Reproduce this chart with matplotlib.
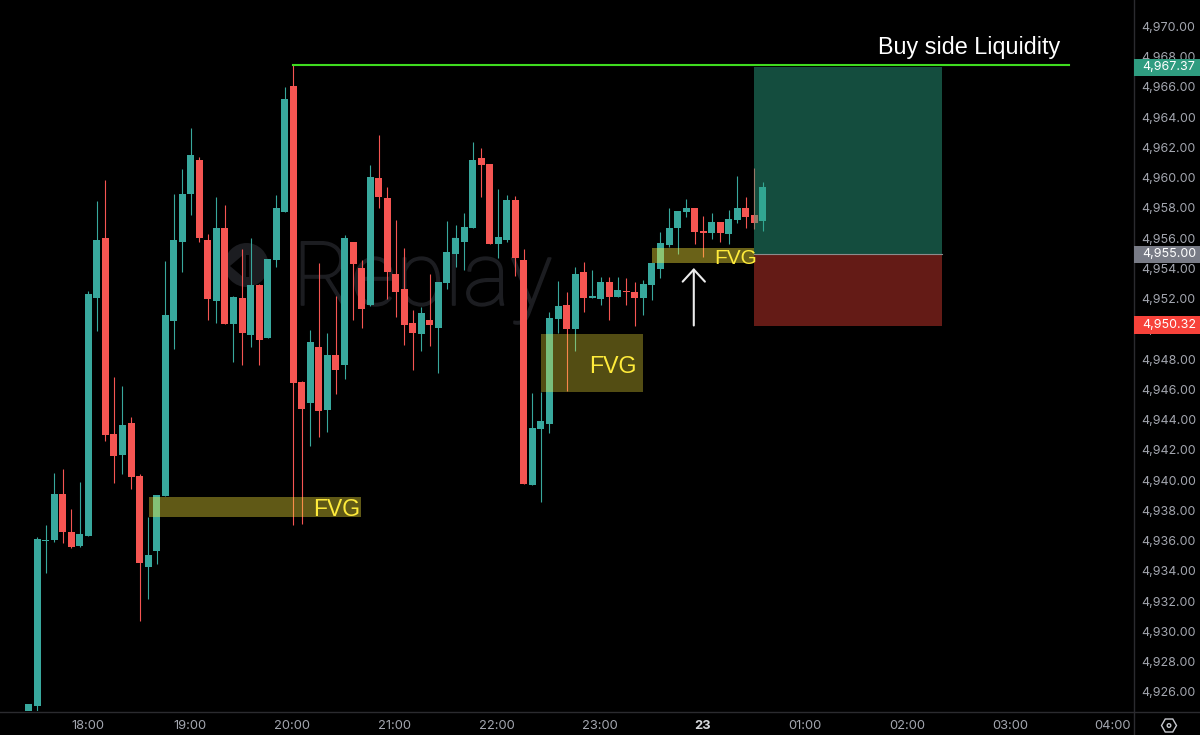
import numpy as np, matplotlib
matplotlib.use("Agg"); import matplotlib.pyplot as plt
import matplotlib.patheffects as pe
from matplotlib.patches import Rectangle, Circle, Polygon, RegularPolygon

# 5 min candles, prices minus 4900, first candle is 35 min before 18:00
opens = [24.74,25.07,35.98,36.05,39.09,36.58,35.65,36.31,52.05,56.02,43.06,41.67,43.79,40.28,34.26,35.32,38.96,50.53,55.75,58.93,
         61.17,55.88,51.85,56.68,50.33,52.05,49.60,52.91,49.40,54.56,57.74,66.07,46.50,45.11,48.81,44.64,48.28,47.62,55.75,54.03,
         51.59,59.98,58.66,53.64,52.64,50.40,49.67,50.60,50.07,53.04,54.96,55.75,56.68,61.31,60.91,55.62,55.88,58.53,54.56,39.69,
         43.39,43.72,50.66,51.59,50.00,53.77,52.05,51.98,53.11,52.12,52.51,52.45,52.05,52.91,53.97,55.55,56.68,57.74,58.00,56.48,
         56.35,57.07,56.28,57.21,58.00,57.54,57.14]
highs = [25.21,36.25,37.04,40.48,40.74,38.10,39.88,52.51,58.46,59.85,46.83,46.23,44.18,40.41,37.57,39.02,54.50,58.93,60.58,63.29,
         61.37,56.28,58.73,58.20,52.18,55.29,56.02,52.98,54.63,58.86,66.00,67.45,46.56,49.93,54.36,49.74,52.18,56.22,55.75,54.56,
         60.84,62.83,59.39,57.21,55.36,51.26,51.45,53.64,53.11,57.14,56.88,57.67,62.36,61.97,60.91,59.26,58.86,58.79,55.29,45.77,
         45.83,51.12,53.17,52.45,54.10,54.43,53.90,53.44,53.44,53.44,53.37,53.11,53.24,54.36,56.41,58.00,57.80,58.59,58.00,57.47,
         57.67,57.07,57.87,60.12,58.73,60.64,59.72]
lows = [24.61,24.74,33.87,35.92,35.85,35.52,35.59,36.31,49.87,42.60,39.82,40.41,39.42,30.69,32.15,34.46,38.96,48.68,53.77,57.54,
        55.75,50.60,50.40,50.33,47.82,47.62,48.81,47.62,49.40,54.10,57.74,37.04,37.11,42.26,42.86,43.19,45.70,46.69,50.60,50.07,
        51.52,58.00,51.98,50.79,48.94,47.29,48.55,48.88,47.09,52.64,54.10,53.90,56.68,58.73,55.62,54.69,55.75,53.50,39.75,39.69,
        38.56,43.12,49.74,45.90,48.55,51.12,52.05,51.59,50.60,52.12,51.59,50.20,50.93,51.92,53.37,55.42,54.96,57.41,55.62,54.76,
        55.95,55.75,55.62,57.01,56.68,56.61,56.48]
closes = [25.21,36.12,36.05,39.09,36.58,35.59,36.45,52.31,55.88,42.99,41.60,43.65,40.21,34.53,35.06,39.02,50.93,55.88,58.93,61.50,
          56.02,51.98,56.68,50.33,52.12,49.74,52.91,49.27,54.63,58.00,65.21,46.43,44.71,49.14,44.58,48.28,47.29,56.02,54.30,51.32,
          60.05,58.73,53.77,52.45,50.26,49.74,51.06,50.26,53.11,55.09,56.02,56.74,61.17,60.84,55.62,56.08,58.53,54.69,39.75,43.45,
          43.92,50.73,51.52,50.00,53.64,52.05,52.18,53.11,52.12,52.58,52.45,52.05,52.98,54.36,55.69,56.68,57.80,58.00,56.41,56.35,
          57.07,56.35,57.27,58.00,57.40,57.01,59.39]
first_bar = -7

base = 4900
price_ticks = list(range(4926, 4972, 2))
time_labels = ["17:00","18:00","19:00","20:00","21:00","22:00","23:00","23","01:00","02:00","03:00","04:00"]
time_bars = [-12,0,12,24,36,48,60,72,84,96,108,120]

# annotations: (bar start, bar end, price low, price high)
fvg_zones = [(7.1,31.9,4937.55,4938.87), (53.0,64.9,4945.83,4949.67), (66.0,78.0,4954.33,4955.33)]
fvg_alpha = [.38,.33,.42]
fvg_text = [(26.35,4938.04,16.5),(58.7,4947.54,16.7),(73.3,4954.65,15)]
liq_price = 4967.45
liq_bars = (24,114.8)
entry,target,stop = 4955.00,4967.37,4950.32
box_edge = -.07   # boxes and tags sit about a pixel under the label centres
pos_bars = (77.95,99.96)
arrow_bar,arrow_lo,arrow_hi = 70.9,4950.23,4954.03

UP,DN = '#38a89d','#f55552'
GREY = '#a3a6af'
FONT = 'Inter'

fig = plt.figure(figsize=(12,7.35),dpi=100,facecolor='black')
# pixel overlay for watermark + settings icon, sits under the chart
bg = fig.add_axes([0,0,1,1],zorder=0); bg.set_xlim(0,1200); bg.set_ylim(735,0); bg.axis('off')
WM = '#1c1d21'
bg.add_patch(Circle((246.5,265),22,fc=WM,ec='none'))
bg.add_patch(Polygon([(230,266),(243,255),(243,277)],fc='black',ec='none'))
bg.add_patch(Rectangle((246,255),3,22,fc='black',ec='none'))
wm = bg.text(293,305,"Replay",color=WM,fontsize=64,family='Roboto',weight='light',ha='left',va='baseline')
wm.set_path_effects([pe.withStroke(linewidth=1.2,foreground=WM)])
bg.add_patch(RegularPolygon((1169,725.5),6,radius=7.5,orientation=np.pi/6,fc='none',ec='#c8cad0',lw=1))
bg.add_patch(Circle((1169,725.5),1.8,fc='none',ec='#c8cad0',lw=1))
bg.plot([0,1200],[711.5,711.5],color='#2b2b2f',lw=1)
bg.plot([1133.5,1133.5],[0,735],color='#2b2b2f',lw=1)

ax = fig.add_axes([0,24/735,1133/1200,711/735],zorder=1)
ax.patch.set_alpha(0)
x = first_bar+np.arange(len(opens))
o,h,l,c = [base+np.array(v) for v in (opens,highs,lows,closes)]
cols = [UP if a>=b else DN for a,b in zip(c,o)]
ax.vlines(x,l,h,colors=cols,lw=.8,zorder=2)
ax.bar(x,np.abs(c-o),bottom=np.minimum(o,c),width=.82,color=cols,lw=0,zorder=3)

# long / short position boxes
b_t,b_e,b_s = target+box_edge,entry+box_edge,stop+box_edge-.03
ax.add_patch(Rectangle((pos_bars[0],b_e),pos_bars[1]-pos_bars[0],b_t-b_e,fc='#2ba584',alpha=.47,lw=0,zorder=4))
ax.add_patch(Rectangle((pos_bars[0],b_s),pos_bars[1]-pos_bars[0],b_e-b_s,fc='#f44336',alpha=.41,lw=0,zorder=4))
ax.plot(pos_bars,[b_e,b_e],color='#8c8c8c',lw=.8,zorder=4)

for (x0,x1,p0,p1),a,(tx,ty,fs) in zip(fvg_zones,fvg_alpha,fvg_text):
    ax.add_patch(Rectangle((x0,p0),x1-x0,p1-p0,fc='#ffeb3b',alpha=a,lw=0,zorder=5))
    ax.text(tx,ty,"FVG",color='#ffeb3b',fontsize=fs,family='Liberation Sans',ha='left',va='center',zorder=6)

ax.plot(liq_bars,[liq_price,liq_price],color='#3fdc1f',lw=1.5,zorder=6)
ax.text(113.8,4968.18,"Buy side Liquidity",color='white',fontsize=16.8,family='Liberation Sans',ha='right',va='baseline',zorder=6)
ax.annotate("",xy=(arrow_bar,arrow_hi),xytext=(arrow_bar,arrow_lo),zorder=6,
            arrowprops=dict(arrowstyle='->,head_length=.87,head_width=.8',color='#ececec',lw=1.5,shrinkA=0,shrinkB=0))

ax.set_xlim(-10.34,122.33); ax.set_ylim(4924.74,4971.75)
for s in ax.spines.values(): s.set_visible(False)
ax.yaxis.tick_right(); ax.set_yticks(price_ticks)
ax.set_yticklabels([f"{p:,.2f}" for p in price_ticks],color=GREY,fontsize=9.0,family=FONT)
ax.tick_params(axis='y',length=0,pad=6.2)
ax.set_xticks([])
xt = ax.get_xaxis_transform()
for b,lab in zip(time_bars,time_labels):
    is_day = lab=="23"
    ax.text(b-.1,-15/711,lab,transform=xt,color='#d6d8dc' if is_day else GREY,fontsize=9.3,family=FONT,
            weight='bold' if is_day else 'normal',ha='center',va='center',clip_on=False)

# price tags on the scale
yt = ax.get_yaxis_transform()
for p,col in [(target,'#2f9c80'),(entry,'#787b86'),(stop,'#f7423a')]:
    ax.add_patch(Rectangle((1.001,p+box_edge-.58),.06,1.16,transform=yt,fc=col,lw=0,clip_on=False,zorder=7))
    ax.text(1.0081,p+box_edge+.02,f"{p:,.2f}",transform=yt,color='white',fontsize=9.0,family=FONT,ha='left',va='center',zorder=8,clip_on=False)

fig.savefig("out.png",dpi=100,facecolor='black')
